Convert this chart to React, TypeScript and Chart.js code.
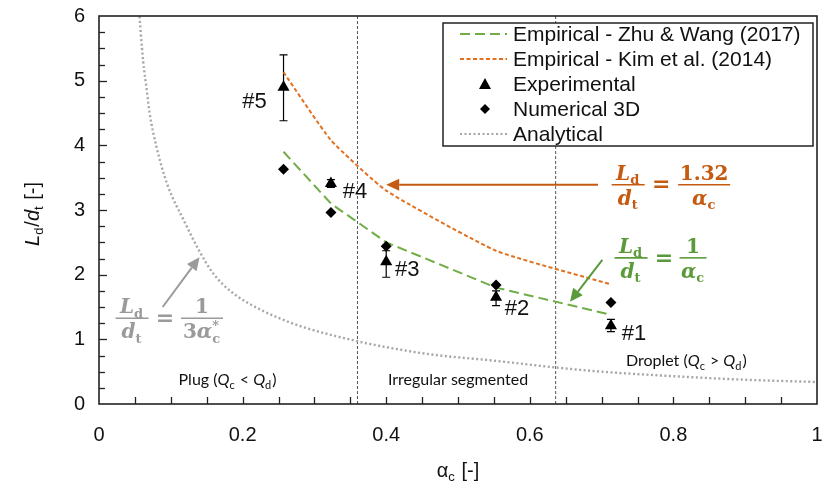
import React, { useEffect, useRef } from "react";
import { Chart, registerables } from "chart.js";
Chart.register(...registerables);

// ---------- data ----------
const alphaPts = [0.257, 0.323, 0.4, 0.553, 0.713];
const zhuWang = [3.9, 3.1, 2.5, 1.8, 1.38];
const kim = [5.13, 4.08, 3.3, 2.37, 1.85];
const experimental = [4.9, 3.41, 2.2, 1.65, 1.21];
const expUpper = [5.4, 3.47, 2.37, 1.75, 1.31];
const expLower = [4.38, 3.35, 1.96, 1.52, 1.12];
const numerical3D = [3.63, 2.96, 2.44, 1.84, 1.57];
const pointLabels = ["#5", "#4", "#3", "#2", "#1"];
const analyticalAlpha = [0.055, 0.0615, 0.066, 0.0705, 0.08, 0.095, 0.119, 0.14, 0.159, 0.186, 0.223, 0.279, 0.36, 0.39, 0.46, 0.55, 0.64, 0.7, 0.8, 0.9, 1.0];
const analyticalValues = [6.2, 5.3, 4.9, 4.5, 3.98, 3.4, 2.82, 2.36, 2.02, 1.72, 1.47, 1.21, 0.97, 0.9, 0.77, 0.67, 0.56, 0.5, 0.43, 0.375, 0.34];
const regimeBounds = [0.36, 0.636];
const legendLabels = [
  "Empirical - Zhu & Wang (2017)",
  "Empirical - Kim et al. (2014)",
  "Experimental",
  "Numerical 3D",
  "Analytical",
];

// ---------- styles / layout ----------
const GREEN = "#70AD47";
const GREEN_TXT = "#5B9A3A";
const ORANGE = "#E2701F";
const ORANGE_TXT = "#C55A11";
const GRAY = "#A6A6A6";
const GRAY_TXT = "#9A9A9A";
const labelOffsets = [[-29, 15], [24, 8], [21, 8], [21, 12], [23, 8]];

type Seg = { t: string; it?: boolean; sub?: boolean; sup?: string };

function fontStr(size: number, family: string, bold: boolean, it: boolean) {
  return `${it ? "italic " : ""}${bold ? "bold " : ""}${size}px ${family}`;
}

function segWidth(ctx: CanvasRenderingContext2D, s: Seg, size: number, sub: number, fam: string, bold: boolean) {
  if (s.sub) {
    ctx.font = fontStr(sub, fam, bold, false);
    let w = ctx.measureText(s.t).width;
    if (s.sup) w = Math.max(w, ctx.measureText(s.sup).width);
    return w + 1;
  }
  ctx.font = fontStr(size, fam, bold, !!s.it);
  return ctx.measureText(s.t).width;
}

function drawRich(
  ctx: CanvasRenderingContext2D,
  segs: Seg[],
  x: number,
  y: number,
  o: { size: number; sub: number; fam: string; bold: boolean; color: string; align: "center" | "left" }
) {
  let total = 0;
  const ws = segs.map((s) => segWidth(ctx, s, o.size, o.sub, o.fam, o.bold));
  ws.forEach((w) => (total += w));
  let cx = o.align === "center" ? x - total / 2 : x;
  ctx.fillStyle = o.color;
  ctx.textAlign = "left";
  ctx.textBaseline = "alphabetic";
  segs.forEach((s, i) => {
    if (s.sub) {
      ctx.font = fontStr(o.sub, o.fam, o.bold, false);
      ctx.fillText(s.t, cx, y + o.size * 0.22);
      if (s.sup) ctx.fillText(s.sup, cx, y - o.size * 0.42);
    } else {
      ctx.font = fontStr(o.size, o.fam, o.bold, !!s.it);
      ctx.fillText(s.t, cx, y);
    }
    cx += ws[i];
  });
  return total;
}

const EQ_FAM = "'DejaVu Serif', 'Liberation Serif', serif";

function drawFrac(ctx: CanvasRenderingContext2D, num: Seg[], den: Seg[], cx: number, cy: number, barW: number, color: string) {
  const o = { size: 20, sub: 13, fam: EQ_FAM, bold: true, color, align: "center" as const };
  drawRich(ctx, num, cx, cy - 5, o);
  drawRich(ctx, den, cx, cy + 20, o);
  ctx.strokeStyle = color;
  ctx.lineWidth = 1.6;
  ctx.beginPath();
  ctx.moveTo(cx - barW / 2, cy);
  ctx.lineTo(cx + barW / 2, cy);
  ctx.stroke();
}

function drawEquation(ctx: CanvasRenderingContext2D, cx: number, cy: number, color: string, rNum: Seg[], rDen: Seg[], rOff: number, rW: number) {
  drawFrac(ctx, [{ t: "L", it: true }, { t: "d", sub: true }], [{ t: "d", it: true }, { t: "t", sub: true }], cx, cy, 33, color);
  ctx.font = fontStr(22, EQ_FAM, true, false);
  ctx.fillStyle = color;
  ctx.textAlign = "center";
  ctx.textBaseline = "middle";
  ctx.fillText("=", cx + 33, cy + 1);
  drawFrac(ctx, rNum, rDen, cx + rOff, cy, rW, color);
}

function arrow(ctx: CanvasRenderingContext2D, x1: number, y1: number, x2: number, y2: number, color: string) {
  const ang = Math.atan2(y2 - y1, x2 - x1);
  const hl = 13, hw = 6;
  const bx = x2 - hl * Math.cos(ang), by = y2 - hl * Math.sin(ang);
  ctx.strokeStyle = color;
  ctx.fillStyle = color;
  ctx.lineWidth = 2;
  ctx.setLineDash([]);
  ctx.beginPath();
  ctx.moveTo(x1, y1);
  ctx.lineTo(bx, by);
  ctx.stroke();
  ctx.beginPath();
  ctx.moveTo(x2, y2);
  ctx.lineTo(bx + hw * Math.sin(ang), by - hw * Math.cos(ang));
  ctx.lineTo(bx - hw * Math.sin(ang), by + hw * Math.cos(ang));
  ctx.closePath();
  ctx.fill();
}

const overlay = {
  id: "overlay",
  beforeDatasetsDraw(chart: any) {
    const ctx: CanvasRenderingContext2D = chart.ctx;
    const xs = chart.scales.x, ys = chart.scales.y;
    ctx.save();
    ctx.strokeStyle = "#000";
    ctx.lineWidth = 1.2;
    ctx.setLineDash([]);
    alphaPts.forEach((a, i) => {
      const x = xs.getPixelForValue(a);
      const yt = ys.getPixelForValue(expUpper[i]);
      const yb = ys.getPixelForValue(expLower[i]);
      ctx.beginPath();
      ctx.moveTo(x, yt); ctx.lineTo(x, yb);
      ctx.moveTo(x - 4, yt); ctx.lineTo(x + 4, yt);
      ctx.moveTo(x - 4, yb); ctx.lineTo(x + 4, yb);
      ctx.stroke();
    });
    ctx.restore();
  },
  afterDraw(chart: any) {
    const ctx: CanvasRenderingContext2D = chart.ctx;
    const xs = chart.scales.x, ys = chart.scales.y;
    const { left, right, top, bottom } = chart.chartArea;
    const px = (v: number) => xs.getPixelForValue(v);
    const py = (v: number) => ys.getPixelForValue(v);
    ctx.save();
    ctx.setLineDash([]);
    // inner ticks
    ctx.strokeStyle = "#222";
    ctx.lineWidth = 1.3;
    for (let k = 1; k < 20; k++) {
      const x = Math.round(px(k * 0.05)) + 0.5;
      ctx.beginPath(); ctx.moveTo(x, bottom); ctx.lineTo(x, bottom - 7); ctx.stroke();
    }
    for (let k = 1; k < 24; k++) {
      const y = Math.round(py(k * 0.25)) + 0.5;
      const len = k % 4 === 0 ? 8 : 6;
      ctx.beginPath(); ctx.moveTo(left, y); ctx.lineTo(left + len, y); ctx.stroke();
    }
    // frame
    ctx.lineWidth = 1.6;
    ctx.strokeStyle = "#222";
    ctx.strokeRect(left, top, right - left, bottom - top);

    // point labels
    ctx.fillStyle = "#111";
    ctx.font = "22px 'Liberation Sans', Arial, sans-serif";
    ctx.textAlign = "center";
    ctx.textBaseline = "middle";
    alphaPts.forEach((a, i) => {
      ctx.fillText(pointLabels[i], px(a) + labelOffsets[i][0], py(experimental[i]) + labelOffsets[i][1]);
    });

    // regime labels
    const rl = { size: 16, sub: 11, fam: "Lato, 'Open Sans', sans-serif", bold: false, color: "#111", align: "center" as const };
    drawRich(ctx, [{ t: "Plug (" }, { t: "Q", it: true }, { t: "c", sub: true }, { t: " < " }, { t: "Q", it: true }, { t: "d", sub: true }, { t: ")" }], px(0.179), py(0.29), rl);
    drawRich(ctx, [{ t: "Irregular segmented" }], px(0.5), py(0.29), rl);
    drawRich(ctx, [{ t: "Droplet (" }, { t: "Q", it: true }, { t: "c", sub: true }, { t: " > " }, { t: "Q", it: true }, { t: "d", sub: true }, { t: ")" }], px(0.818), py(0.58), rl);

    // equations + arrows
    arrow(ctx, px(0.695), py(3.39), px(0.4), py(3.39), ORANGE_TXT);
    drawEquation(ctx, px(0.737), py(3.39), ORANGE_TXT, [{ t: "1.32" }], [{ t: "α", it: true }, { t: "c", sub: true }], 76, 52);
    arrow(ctx, px(0.701), py(2.23), px(0.656), py(1.58), GREEN_TXT);
    drawEquation(ctx, px(0.741), py(2.26), GREEN_TXT, [{ t: "1" }], [{ t: "α", it: true }, { t: "c", sub: true }], 62, 27);
    arrow(ctx, px(0.0887), py(1.5), px(0.14), py(2.27), GRAY_TXT);
    drawEquation(ctx, px(0.046), py(1.325), GRAY_TXT, [{ t: "1" }], [{ t: "3" }, { t: "α", it: true }, { t: "c", sub: true, sup: "*" }], 70, 42);

    // legend
    const lx = 443, ly = 23, lw = 370, lh = 123;
    ctx.fillStyle = "#fff";
    ctx.fillRect(lx, ly, lw, lh);
    ctx.strokeStyle = "#222";
    ctx.lineWidth = 1.5;
    ctx.strokeRect(lx, ly, lw, lh);
    const rows = [34, 59, 84, 109, 134];
    const sx1 = 460, sx2 = 507, sm = 485;
    const line = (y: number, color: string, dash: number[], w: number) => {
      ctx.strokeStyle = color; ctx.lineWidth = w; ctx.setLineDash(dash);
      ctx.beginPath(); ctx.moveTo(sx1, y); ctx.lineTo(sx2, y); ctx.stroke();
      ctx.setLineDash([]);
    };
    line(rows[0], GREEN, [10, 5], 2);
    line(rows[1], ORANGE, [4, 2.5], 2);
    line(rows[4], GRAY, [2, 2.5], 2);
    ctx.fillStyle = "#000";
    ctx.beginPath();
    ctx.moveTo(sm, rows[2] - 6); ctx.lineTo(sm + 6, rows[2] + 5); ctx.lineTo(sm - 6, rows[2] + 5); ctx.closePath(); ctx.fill();
    ctx.beginPath();
    ctx.moveTo(sm, rows[3] - 5); ctx.lineTo(sm + 5, rows[3]); ctx.lineTo(sm, rows[3] + 5); ctx.lineTo(sm - 5, rows[3]); ctx.closePath(); ctx.fill();
    ctx.fillStyle = "#111";
    ctx.font = "21px 'Liberation Sans', Arial, sans-serif";
    ctx.textAlign = "left";
    ctx.textBaseline = "middle";
    legendLabels.forEach((t, i) => ctx.fillText(t, 513, rows[i] + 1));

    // axis titles
    const at = { size: 20, sub: 13, fam: "'Liberation Sans', Arial, sans-serif", bold: false, color: "#111", align: "center" as const };
    drawRich(ctx, [{ t: "α" }, { t: "c", sub: true }, { t: " [-]" }], 458, 477, at);
    ctx.save();
    ctx.translate(39, 214);
    ctx.rotate(-Math.PI / 2);
    drawRich(ctx, [{ t: "L", it: true }, { t: "d", sub: true }, { t: "/" }, { t: "d", it: true }, { t: "t", sub: true }, { t: " [-]" }], 0, 0, at);
    ctx.restore();
    ctx.restore();
  },
};

const noPad = (s: any) => {
  s.paddingLeft = 0; s.paddingRight = 0; s.paddingTop = 0; s.paddingBottom = 0;
};

export default function App() {
  const ref = useRef<HTMLCanvasElement | null>(null);
  useEffect(() => {
    if (!ref.current) return;
    const pts = (ys: number[]) => alphaPts.map((a, i) => ({ x: a, y: ys[i] }));
    const chart = new Chart(ref.current, {
      type: "scatter",
      data: {
        datasets: [
          { label: legendLabels[2], data: pts(experimental), pointStyle: "triangle", pointRadius: 7, backgroundColor: "#000", borderColor: "#000", borderWidth: 0, showLine: false },
          { label: legendLabels[3], data: pts(numerical3D), pointStyle: "rectRot", pointRadius: 5.5, backgroundColor: "#000", borderColor: "#000", borderWidth: 0, showLine: false },
          { label: legendLabels[0], data: pts(zhuWang), showLine: true, borderColor: GREEN, borderWidth: 2, borderDash: [10, 5], pointRadius: 0, fill: false },
          { label: legendLabels[1], data: pts(kim), showLine: true, borderColor: ORANGE, borderWidth: 2, borderDash: [4, 2.5], pointRadius: 0, fill: false, tension: 0.15 },
          { label: legendLabels[4], data: analyticalAlpha.map((a, i) => ({ x: a, y: analyticalValues[i] })), showLine: true, borderColor: GRAY, borderWidth: 2.4, borderDash: [2, 2.5], pointRadius: 0, fill: false, cubicInterpolationMode: "monotone" },
          ...regimeBounds.map((b) => ({ label: "bound", data: [{ x: b, y: 0 }, { x: b, y: 6 }], showLine: true, borderColor: "#555", borderWidth: 1, borderDash: [3, 2], pointRadius: 0, fill: false })),
        ] as any,
      },
      options: {
        responsive: false,
        animation: false,
        devicePixelRatio: 1,
        layout: { padding: { top: 16, right: 6, left: 0, bottom: 0 } },
        plugins: { legend: { display: false }, tooltip: { enabled: false } },
        scales: {
          x: {
            type: "linear", min: 0, max: 1,
            grid: { display: false, drawTicks: false },
            border: { display: false },
            ticks: { stepSize: 0.2, color: "#111", padding: 19, font: { family: "'Liberation Sans', Arial, sans-serif", size: 20 }, callback: (v: any) => String(Math.round(v * 10) / 10) },
            afterFit: (s: any) => { s.height = 84; noPad(s); },
          },
          y: {
            type: "linear", min: 0, max: 6,
            grid: { display: false, drawTicks: false },
            border: { display: false },
            ticks: { stepSize: 1, color: "#111", padding: 14, font: { family: "'Liberation Sans', Arial, sans-serif", size: 20 } },
            afterFit: (s: any) => { s.width = 99; noPad(s); },
          },
        },
      } as any,
      plugins: [overlay],
    });
    return () => chart.destroy();
  }, []);
  return (
    <div style={{ position: "fixed", left: 0, top: 0, width: 824, height: 488, background: "#fff" }}>
      <canvas ref={ref} width={824} height={488} style={{ display: "block" }} />
    </div>
  );
}
